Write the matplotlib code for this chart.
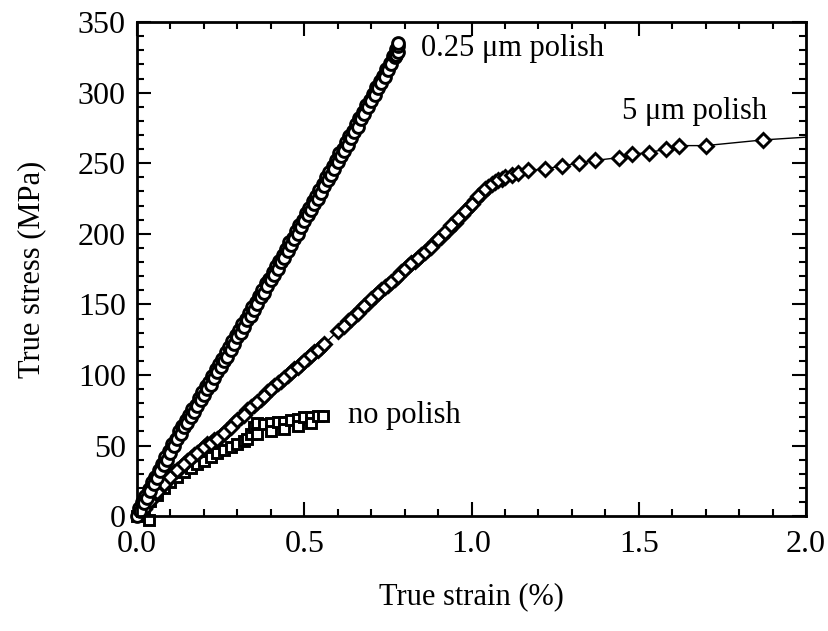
import matplotlib
matplotlib.use('Agg')
import matplotlib.pyplot as plt
from matplotlib.ticker import MultipleLocator

plt.rcParams['font.family'] = ['Liberation Serif', 'DejaVu Serif']

# 0.25 um polish (circles), two overlapping runs
strain_025 = [0.00, 0.01, 0.02, 0.03, 0.04, 0.05, 0.06, 0.07, 0.08, 0.09,
              0.10, 0.11, 0.12, 0.13, 0.14, 0.15, 0.16, 0.17, 0.18, 0.19,
              0.20, 0.21, 0.22, 0.23, 0.24, 0.25, 0.26, 0.27, 0.28, 0.29,
              0.30, 0.31, 0.32, 0.33, 0.34, 0.35, 0.36, 0.37, 0.38, 0.39,
              0.40, 0.41, 0.42, 0.43, 0.44, 0.45, 0.46, 0.47, 0.48, 0.49,
              0.50, 0.51, 0.52, 0.53, 0.54, 0.55, 0.56, 0.57, 0.58, 0.59,
              0.60, 0.61, 0.62, 0.63, 0.64, 0.65, 0.66, 0.67, 0.68, 0.69,
              0.70, 0.71, 0.72, 0.73, 0.74, 0.75, 0.76, 0.77, 0.775, 0.78,
              0.78, 0.78]
stress_025 = [0, 4, 9, 13, 18, 23, 27, 32, 36, 40,
              45, 50, 55, 58, 63, 66, 70, 74, 78, 82,
              86, 90, 93, 98, 102, 106, 110, 113, 118, 122,
              127, 130, 134, 139, 142, 146, 150, 155, 158, 163,
              167, 171, 175, 180, 183, 188, 192, 196, 200, 205,
              209, 213, 217, 221, 225, 229, 234, 238, 242, 246,
              251, 255, 259, 263, 268, 272, 276, 281, 285, 290,
              294, 298, 303, 307, 311, 316, 320, 325, 327, 329,
              333, 335]
strain_025b = [0.005, 0.015, 0.025, 0.035, 0.045, 0.055, 0.065, 0.075, 0.085, 0.095,
               0.105, 0.115, 0.125, 0.135, 0.145, 0.155, 0.165, 0.175, 0.185, 0.195,
               0.205, 0.215, 0.225, 0.235, 0.245, 0.255, 0.265, 0.275, 0.285, 0.295,
               0.305, 0.315, 0.325, 0.335, 0.345, 0.355, 0.365, 0.375, 0.385, 0.395,
               0.405, 0.415, 0.425, 0.435, 0.445, 0.455, 0.465, 0.475, 0.485, 0.495,
               0.505, 0.515, 0.525, 0.535, 0.545, 0.555, 0.565, 0.575, 0.585, 0.595,
               0.605, 0.615, 0.625, 0.635, 0.645, 0.655, 0.665, 0.675, 0.685, 0.695,
               0.705, 0.715, 0.725, 0.735, 0.745, 0.755, 0.765, 0.775]
stress_025b = [6, 10, 14, 19, 24, 28, 33, 37, 42, 46,
               51, 55, 60, 64, 68, 72, 76, 79, 84, 88,
               92, 95, 99, 104, 108, 111, 116, 120, 124, 128,
               132, 136, 140, 144, 148, 152, 156, 160, 165, 168,
               173, 177, 181, 185, 189, 194, 197, 202, 206, 210,
               215, 218, 223, 227, 231, 235, 240, 244, 248, 252,
               257, 260, 265, 269, 273, 278, 282, 286, 291, 295,
               299, 304, 308, 312, 317, 321, 326, 331]

# 5 um polish (diamonds)
strain_5 = [0.00, 0.02, 0.04, 0.06, 0.08, 0.10, 0.12, 0.14, 0.16, 0.18,
            0.20, 0.22, 0.24, 0.26, 0.28, 0.30, 0.32, 0.34, 0.36, 0.38,
            0.40, 0.42, 0.44, 0.46, 0.48, 0.50, 0.52, 0.54, 0.56, 0.60,
            0.62, 0.64, 0.66, 0.68, 0.70, 0.72, 0.74, 0.76, 0.78, 0.80,
            0.82, 0.84, 0.86, 0.88, 0.90, 0.92, 0.94, 0.96, 0.98, 1.00,
            1.02, 1.04, 1.06, 1.08, 1.10, 1.12, 1.14, 1.17, 1.22, 1.27,
            1.32, 1.37, 1.44, 1.48, 1.53, 1.58, 1.62, 1.70, 1.87, 2.10]
stress_5 = [0, 5, 11, 17, 23, 28, 33, 37, 41, 45,
            49, 52, 55, 59, 63, 68, 72, 77, 81, 85,
            90, 94, 98, 102, 106, 110, 114, 118, 122, 131,
            135, 140, 144, 149, 154, 158, 162, 166, 170, 175,
            179, 183, 187, 191, 196, 201, 206, 211, 216, 221,
            227, 232, 235, 238, 240, 241.5, 243, 245, 246, 248,
            250, 252, 254, 256.5, 257.5, 260, 262.5, 262.5, 266.5, 270]
strain_5b = [0.01, 0.03, 0.05, 0.07, 0.09, 0.11, 0.13, 0.15, 0.17, 0.19,
             0.21, 0.23, 0.25, 0.27, 0.29, 0.31, 0.33, 0.35, 0.37, 0.39,
             0.41, 0.43, 0.45, 0.47, 0.49, 0.51, 0.53, 0.55, 0.63, 0.65,
             0.67, 0.69, 0.71, 0.73, 0.75, 0.77, 0.79, 0.81, 0.83, 0.85,
             0.87, 0.89, 0.91, 0.93, 0.95, 0.97, 0.99, 1.01, 1.03, 1.05,
             1.07, 1.09]
stress_5b = [3, 8, 14, 20, 26, 31, 35, 39, 43, 47,
             51, 54, 57, 61, 66, 70, 75, 79, 83, 88,
             92, 96, 100, 104, 108, 112, 116, 120, 138, 142,
             147, 151, 156, 160, 164, 168, 173, 177, 181, 185,
             189, 194, 198, 203, 208, 213, 218, 224, 229, 233,
             237, 239]

# no polish (squares)
strain_np = [0.00, 0.035, 0.02, 0.04, 0.06, 0.08, 0.10, 0.12, 0.14, 0.16,
             0.18, 0.20, 0.22, 0.24, 0.26, 0.28, 0.30, 0.32, 0.33, 0.34,
             0.35, 0.36, 0.36, 0.38, 0.40, 0.40, 0.42, 0.44, 0.44, 0.46,
             0.48, 0.48, 0.50, 0.52, 0.52, 0.54, 0.555]
stress_np = [0, -3, 6, 11, 15, 20, 24, 28, 31, 34,
             37, 39, 42, 45, 47, 49, 51, 53, 55, 58,
             63, 66, 58, 65, 66, 60, 67, 67, 62, 68,
             69, 64, 70, 70, 66, 71, 71]

fig = plt.figure(figsize=(8.29, 6.31), dpi=100)
ax = fig.add_axes([0.1653, 0.182, 0.807, 0.783])

kw = dict(color='black', lw=1.0, mfc='white', mec='black', mew=2.1, clip_on=False)
ax.plot(strain_np, stress_np, marker='s', ms=7.5, **kw)
ax.plot(strain_5b, stress_5b, marker='D', ms=7, ls='none', **kw)
ax.plot(strain_5, stress_5, marker='D', ms=7, **kw)
ax.lines[-1].set_clip_on(True)  # last 5 um segment runs past the right spine
ax.plot(strain_025b, stress_025b, marker='o', ms=8.5, ls='none', **kw)
ax.plot(strain_025, stress_025, marker='o', ms=8.5, **kw)

ax.text(0.85, 331, '0.25 μm polish', fontsize=22, va='center')
ax.text(1.45, 287, '5 μm polish', fontsize=22, va='center')
ax.text(0.63, 71, 'no polish', fontsize=22, va='center')

ax.set_xlim(0, 2.0)
ax.set_ylim(0, 350)
ax.xaxis.set_major_locator(MultipleLocator(0.5))
ax.xaxis.set_minor_locator(MultipleLocator(0.1))
ax.yaxis.set_major_locator(MultipleLocator(50))
ax.yaxis.set_minor_locator(MultipleLocator(10))
ax.xaxis.set_major_formatter(plt.FormatStrFormatter('%.1f'))
ax.tick_params(which='both', direction='in', top=True, right=True, width=1.5)
ax.tick_params(which='major', length=10, labelsize=23)
ax.tick_params(axis='x', which='major', pad=10)
ax.tick_params(axis='y', which='major', pad=8)
ax.tick_params(which='minor', length=5)
for s in ax.spines.values():
    s.set_linewidth(2)

ax.set_xlabel('True strain (%)', fontsize=22, labelpad=17)
ax.set_ylabel('True stress (MPa)', fontsize=22, labelpad=23)

fig.savefig('out.png', dpi=100)
